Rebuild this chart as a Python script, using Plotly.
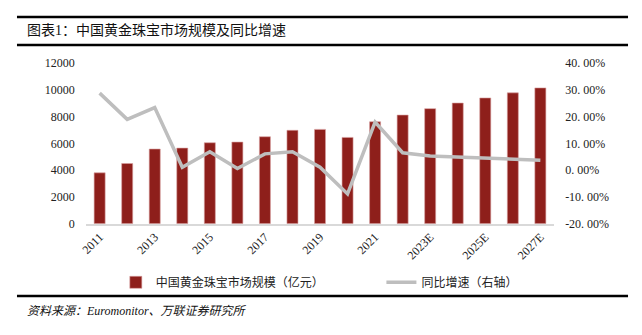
import plotly.graph_objects as go

years = ["2011", "2012", "2013", "2014", "2015", "2016", "2017", "2018", "2019",
         "2020", "2021", "2022", "2023E", "2024E", "2025E", "2026E", "2027E"]
market_size = [3800, 4500, 5580, 5650, 6050, 6100, 6500, 6980, 7050,
               6450, 7620, 8120, 8600, 9020, 9400, 9780, 10150]
yoy_growth = [28.8, 19.0, 23.4, 1.1, 6.9, 0.6, 6.1, 6.9, 1.1,
              -8.9, 18.0, 6.5, 5.3, 4.9, 4.3, 3.9, 3.75]
tick_years = years[::2]
left_ticks = [0, 2000, 4000, 6000, 8000, 10000, 12000]
right_ticks = [-20, -10, 0, 10, 20, 30, 40]

FONT = "Liberation Serif, Noto Sans CJK SC, serif"
W, H = 642, 335
# expected automatic margin push (px) used to map pixel targets to paper fractions
ML, MR, MT, MB = 4, 1, 8, 7


def fx(x):
    return (x - ML) / (W - ML - MR)


def fy(y):
    return 1 - (y - MT) / (H - MT - MB)


fig = go.Figure()
fig.add_trace(go.Bar(
    x=years, y=market_size, name="中国黄金珠宝市场规模（亿元）",
    marker=dict(color="#8E1F1B", line=dict(color="#D9A0A0", width=0.6)),
    width=0.4, legend="legend",
))
fig.add_trace(go.Scatter(
    x=years, y=yoy_growth, name="同比增速（右轴）", yaxis="y2",
    mode="lines", line=dict(color="#BEBEBE", width=3.5), legend="legend2",
))


def rule(y):
    return dict(type="line", xref="paper", yref="paper", x0=fx(15), x1=fx(627),
                y0=fy(y), y1=fy(y), line=dict(color="black", width=2.5))


fig.update_layout(
    width=W, height=H,
    margin=dict(l=0, r=0, t=0, b=0),
    plot_bgcolor="white", paper_bgcolor="white",
    font=dict(family=FONT, size=12, color="#222"),
    showlegend=True,
    xaxis=dict(
        domain=[fx(84), fx(553)],
        type="category", tickmode="array", tickvals=tick_years, ticktext=tick_years,
        tickangle=-45, showgrid=False, showline=True, linecolor="#D9D9D9", linewidth=1.5,
        ticks="", tickfont=dict(size=12, family=FONT),
    ),
    yaxis=dict(
        domain=[fy(224), fy(64)],
        range=[0, 12000], tickvals=left_ticks, ticktext=[str(v) for v in left_ticks],
        showgrid=False, zeroline=False,
        ticks="", tickfont=dict(size=12, family=FONT), ticklabelstandoff=10,
    ),
    yaxis2=dict(
        overlaying="y", side="right", range=[-20, 40], tickvals=right_ticks,
        ticktext=[f"{v:.2f}%".replace(".", ". ") for v in right_ticks],
        showgrid=False, zeroline=False, ticks="", tickfont=dict(size=12, family=FONT),
        ticklabelstandoff=10,
    ),
    legend=dict(
        orientation="h", x=fx(114), xanchor="left", y=fy(268), yanchor="top",
        font=dict(size=12, family=FONT), itemwidth=30, bgcolor="rgba(0,0,0,0)",
    ),
    legend2=dict(
        orientation="h", x=fx(380), xanchor="left", y=fy(268), yanchor="top",
        font=dict(size=12, family=FONT), itemwidth=30, bgcolor="rgba(0,0,0,0)",
    ),
    shapes=[rule(18), rule(46), rule(296)],
    annotations=[
        dict(text="图表1：中国黄金珠宝市场规模及同比增速", xref="paper", yref="paper",
             x=fx(23), y=fy(31), xanchor="left", yanchor="middle",
             showarrow=False, font=dict(size=14, family=FONT, color="#111")),
        dict(text="<i>资料来源：Euromonitor、万联证券研究所</i>", xref="paper", yref="paper",
             x=fx(23), y=fy(311), xanchor="left", yanchor="middle",
             showarrow=False, font=dict(size=12, family=FONT, color="#111")),
    ],
)

fig.write_html("out.html")
